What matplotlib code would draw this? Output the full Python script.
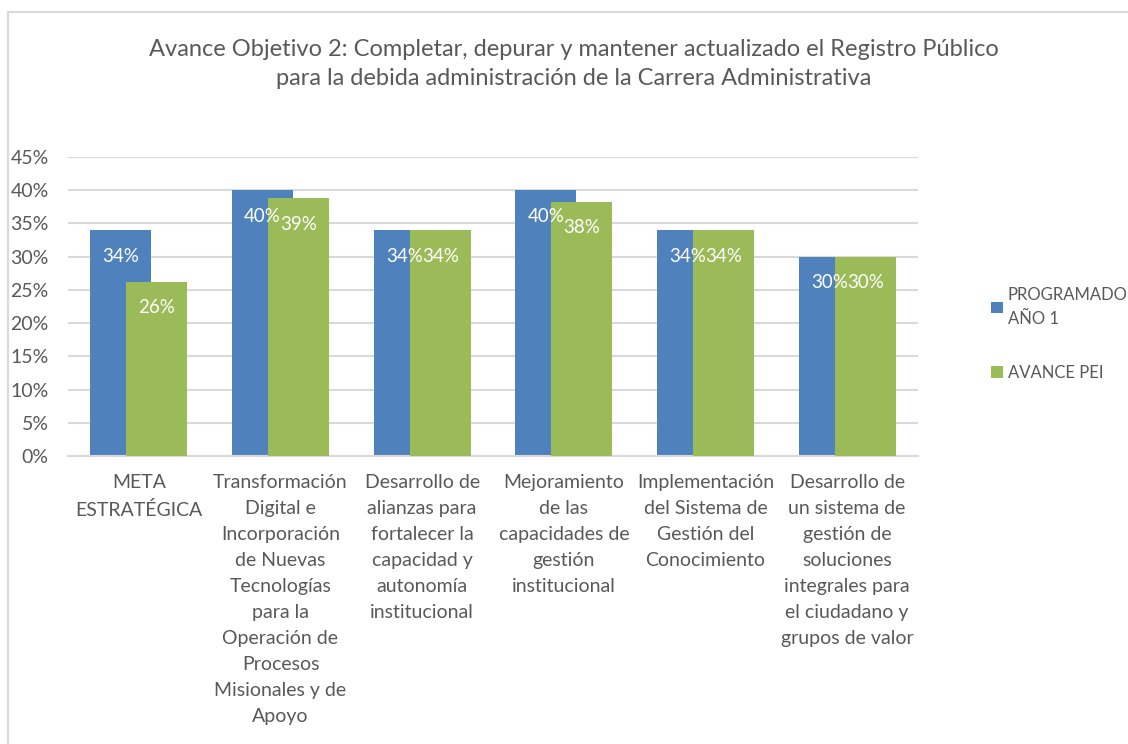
import numpy as np
import matplotlib
matplotlib.use("Agg")
import matplotlib.pyplot as plt
from matplotlib import patches

plt.rcParams['font.family'] = ['Lato', 'DejaVu Sans']

# DATA
categorias = [
    "META\nESTRATÉGICA",
    "Transformación\nDigital e\nIncorporación\nde Nuevas\nTecnologías\npara la\nOperación de\nProcesos\nMisionales y de\nApoyo",
    "Desarrollo de\nalianzas para\nfortalecer la\ncapacidad y\nautonomía\ninstitucional",
    "Mejoramiento\nde las\ncapacidades de\ngestión\ninstitucional",
    "Implementación\ndel Sistema de\nGestión del\nConocimiento",
    "Desarrollo de\nun sistema de\ngestión de\nsoluciones\nintegrales para\nel ciudadano y\ngrupos de valor",
]
programado = [0.34, 0.40, 0.34, 0.40, 0.34, 0.30]
avance = [0.262, 0.388, 0.34, 0.383, 0.34, 0.30]
series = ["PROGRAMADO\nAÑO 1", "AVANCE PEI"]
yticks = [0, 0.05, 0.10, 0.15, 0.20, 0.25, 0.30, 0.35, 0.40, 0.45]

BLUE = "#4F81BD"
GREEN = "#9BBB59"
TEXT = "#595959"
GRID = "#D9D9D9"

fig = plt.figure(figsize=(11.28, 7.44), dpi=100)
ax = fig.add_axes([68 / 1128, 1 - 456 / 744, 850 / 1128, 299 / 744])

x = np.arange(len(categorias))
w = 0.43
off = 0.127
b1 = ax.bar(x - off, programado, w, color=BLUE, zorder=2, label=series[0])
b2 = ax.bar(x + off, avance, w, color=GREEN, zorder=3, label=series[1])

for xs, vals in ((x - off, programado), (x + off, avance)):
    for xi, v in zip(xs, vals):
        ax.annotate("{:.0f}%".format(v * 100), (xi, v), xytext=(0, -26),
                    textcoords="offset pixels", ha="center", va="center",
                    color="white", fontsize=13.5, zorder=5)

ax.set_xlim(-0.5, len(categorias) - 0.5)
ax.set_ylim(0, 0.45)
ax.set_yticks(yticks)
ax.set_yticklabels(["{:.0f}%".format(t * 100) for t in yticks])
ax.set_xticks(x)
ax.set_xticklabels(categorias, linespacing=1.64)
ax.tick_params(axis="both", length=0, labelsize=14, colors=TEXT)
ax.tick_params(axis="x", pad=13)
ax.tick_params(axis="y", pad=14)
ax.yaxis.grid(True, color=GRID, linewidth=1.5, zorder=0)
ax.set_axisbelow(True)
for s in ["top", "right", "left"]:
    ax.spines[s].set_visible(False)
ax.spines["bottom"].set_color(GRID)
ax.spines["bottom"].set_linewidth(1.5)

leg = fig.legend(handles=[b1, b2], loc="upper left",
                 bbox_to_anchor=(976 / 1128, 1 - 272 / 744), frameon=False,
                 fontsize=12, labelspacing=2.3, handlelength=0.7,
                 handleheight=0.7, handletextpad=0.3, labelcolor=TEXT)
for t in leg.get_texts():
    t.set_linespacing(1.6)

fig.text(0.509, 1 - 64 / 744,
         "Avance Objetivo 2: Completar, depurar y mantener actualizado el Registro Público\n"
         "para la debida administración de la Carrera Administrativa",
         ha="center", va="center", fontsize=17, color=TEXT, linespacing=1.45)

border = patches.Rectangle((7.5 / 1128, -0.1), 1.2, 1.1 - 12 / 744,
                           transform=fig.transFigure, fill=False,
                           edgecolor=GRID, linewidth=1.5)
fig.patches.append(border)

fig.savefig("out.png", dpi=100)
